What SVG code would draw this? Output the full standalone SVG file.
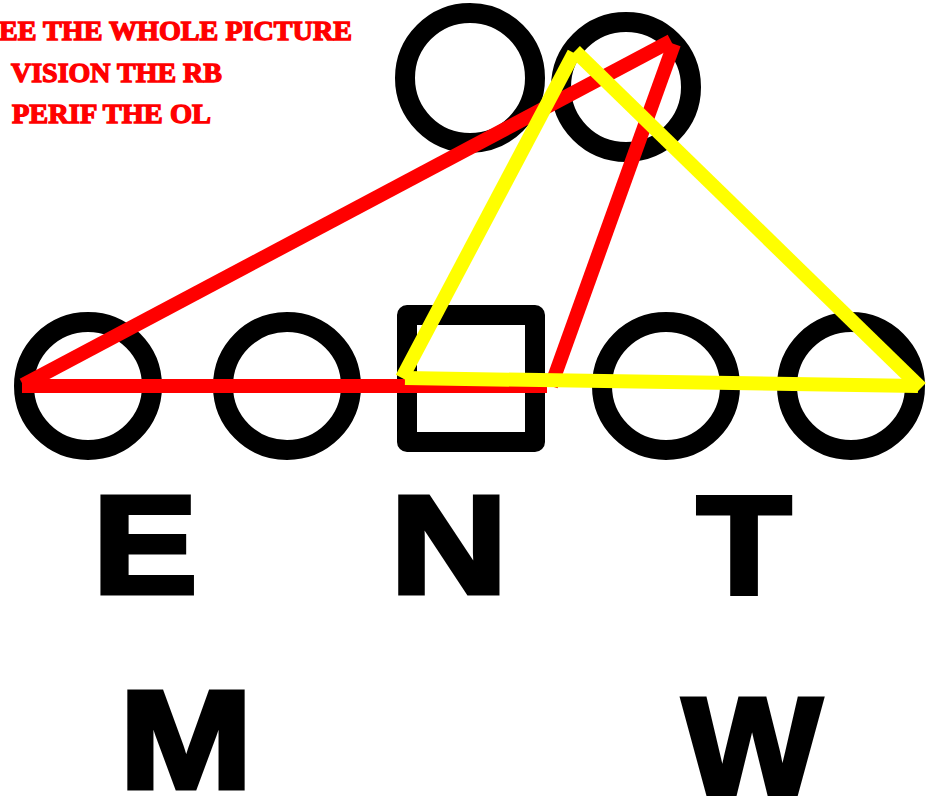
<svg xmlns="http://www.w3.org/2000/svg" width="940" height="796" viewBox="0 0 940 796">
<style>
.ring{fill:none;stroke:#000;stroke-width:20}
.sq{fill:none;stroke:#000;stroke-width:20;stroke-linejoin:round}
.red{fill:none;stroke:#ff0000;stroke-width:14;stroke-linecap:butt}
.yel{fill:none;stroke:#ffff00;stroke-width:14;stroke-linecap:butt}
.note{font-family:"Liberation Serif",serif;font-weight:bold;font-size:27px;fill:#ff0000;stroke:#ff0000;stroke-width:1.3}
.big{font-family:"Liberation Sans",Arial,sans-serif;font-weight:bold;font-size:140px;fill:#000;stroke:#000;stroke-width:5;stroke-linejoin:miter;text-anchor:middle}
</style>
<rect width="940" height="796" fill="#fff"/>
<g id="notes">
<text class="note" x="-1" y="40" textLength="353" lengthAdjust="spacingAndGlyphs">EE THE WHOLE PICTURE</text>
<text class="note" x="11" y="82" textLength="211" lengthAdjust="spacingAndGlyphs">VISION THE RB</text>
<text class="note" x="12" y="123" textLength="199" lengthAdjust="spacingAndGlyphs">PERIF THE OL</text>
</g>
<g id="top-left-circle"><circle class="ring" cx="470" cy="78" r="65"/></g>
<g id="top-right-circle"><circle class="ring" cx="626" cy="87" r="65"/></g>
<g id="circle-1"><circle class="ring" cx="88" cy="386" r="64"/></g>
<g id="circle-2"><circle class="ring" cx="287" cy="386" r="64"/></g>
<g id="center-square"><rect class="sq" x="407" y="315" width="128" height="127"/></g>
<g id="circle-4"><circle class="ring" cx="666" cy="386" r="64"/></g>
<g id="circle-5"><circle class="ring" cx="851" cy="386" r="64"/></g>
<g id="connectors">
<line class="red" x1="22" y1="386" x2="547" y2="386"/>
<line class="red" x1="23" y1="385" x2="671" y2="41"/>
<line class="red" x1="674" y1="44" x2="551" y2="386"/>
<line class="yel" x1="405" y1="378" x2="918" y2="386"/>
<line class="yel" x1="402" y1="378" x2="574" y2="53"/>
<line class="yel" x1="575" y1="51" x2="921" y2="388"/>
</g>
<g id="label-E"><text class="big" transform="translate(145,593) scale(1.12,1)">E</text></g>
<g id="label-N"><text class="big" transform="translate(449,593) scale(1.16,1)">N</text></g>
<g id="label-T"><text class="big" transform="translate(744,593) scale(1.1,1)">T</text></g>
<g id="label-M"><text class="big" transform="translate(186,788) scale(1.14,1)">M</text></g>
<g id="label-W"><text class="big" transform="translate(752,795) scale(1.05,1)">W</text></g>
</svg>
